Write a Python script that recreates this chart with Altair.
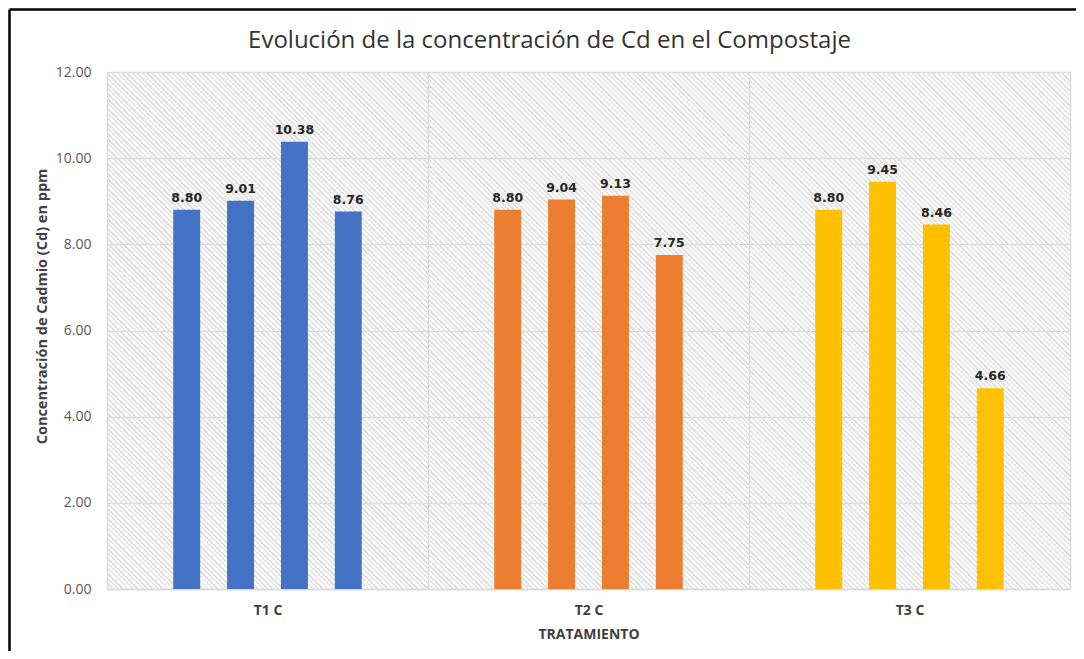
import altair as alt
import pandas as pd

groups = ["T1 C", "T2 C", "T3 C"]
samples = ["1", "2", "3", "4"]
t1_values = [8.80, 9.01, 10.38, 8.76]
t2_values = [8.80, 9.04, 9.13, 7.75]
t3_values = [8.80, 9.45, 8.46, 4.66]
colors = ["#4472C4", "#ED7D31", "#FFC000"]

rows = []
for g, vals in zip(groups, [t1_values, t2_values, t3_values]):
    for s, v in zip(samples, vals):
        rows.append({"grupo": g, "muestra": s, "valor": v})
df = pd.DataFrame(rows)

W, H = 963, 517
PL, PT, PR, PB = 99, 64, 6, 62

# diagonal hatch as a striped linear gradient (45 degree lines)
r = H / W
tmax = (1 + r) / (1 + r * r)
N = int(round((W + H) / 5.0))
stops = []
frac = 0.45
GRAY = "#e2e2e2"
CLEAR = "rgba(255,255,255,0)"
for k in range(N):
    a = k / N
    b = (k + frac) / N
    c = (k + 1) / N
    stops.append({"offset": round(a, 6), "color": GRAY})
    stops.append({"offset": round(b, 6), "color": GRAY})
    stops.append({"offset": round(b, 6), "color": CLEAR})
    stops.append({"offset": round(c, 6), "color": CLEAR})
hatch = {
    "gradient": "linear",
    "x1": 0, "y1": 1,
    "x2": round(tmax, 6), "y2": round(1 - r * tmax, 6),
    "stops": stops,
}

offset_domain = ["_a"] + samples + ["_b"]

base = alt.Chart(df).encode(
    x=alt.X(
        "grupo:N",
        sort=groups,
        scale=alt.Scale(paddingInner=0, paddingOuter=0),
        axis=alt.Axis(
            title="TRATAMIENTO",
            labelAngle=0,
            tickBand="extent",
            ticks=False,
            tickSize=0,
            labelPadding=14,
            labelFont="Open Sans",
            labelFontWeight="bold",
            labelFontSize=14,
            labelColor="#404040",
            titleFont="Open Sans",
            titleFontWeight="bold",
            titleFontSize=14,
            titleColor="#404040",
            titlePadding=10,
            domainColor="#d9d9d9",
            domainWidth=1.5,
            grid=True,
            gridColor="#d9d9d9",
            gridWidth=1.5,
        ),
    ),
    xOffset=alt.XOffset(
        "muestra:N",
        scale=alt.Scale(domain=offset_domain, paddingInner=0.5, paddingOuter=0.23),
    ),
    y=alt.Y(
        "valor:Q",
        scale=alt.Scale(domain=[0, 12], nice=False),
        axis=alt.Axis(
            title="Concentración de Cadmio (Cd) en ppm",
            values=[0, 2, 4, 6, 8, 10, 12],
            format=".2f",
            ticks=False,
            tickSize=0,
            domain=False,
            labelPadding=16,
            labelFont="Open Sans",
            labelFontSize=14,
            labelColor="#595959",
            titleFont="Open Sans",
            titleFontWeight="bold",
            titleFontSize=14.5,
            titleColor="#404040",
            titleX=-65,
            titleY=234,
            titleBaseline="middle",
            gridColor="#d9d9d9",
            gridWidth=1.5,
        ),
    ),
)

one_row = alt.Data(values=[{"k": 1}])

background = alt.Chart(one_row).mark_rect(fill=hatch, strokeWidth=0).encode(
    x=alt.value(0), x2=alt.value(W), y=alt.value(0), y2=alt.value(H)
)

bars = base.mark_bar().encode(
    color=alt.Color("grupo:N", sort=groups,
                    scale=alt.Scale(domain=groups, range=colors), legend=None)
)

labels = base.mark_text(
    baseline="bottom", dy=-5, font="DejaVu Sans", fontWeight="bold",
    fontSize=12.5, color="#262626"
).encode(text=alt.Text("valor:Q", format=".2f"))

left_border = alt.Chart(one_row).mark_rule(color="#000000", strokeWidth=2.5).encode(
    x=alt.value(-PL + 1.5), y=alt.value(-PT + 1.5), y2=alt.value(H + PB)
)
top_border = alt.Chart(one_row).mark_rule(color="#000000", strokeWidth=2.5).encode(
    x=alt.value(-PL + 1.5), x2=alt.value(W + PR), y=alt.value(-PT + 1.5)
)

chart = alt.layer(background, bars, labels, left_border, top_border).properties(
    width=W,
    height=H,
    autosize="none",
    padding={"left": PL, "top": PT, "right": PR, "bottom": PB},
    title=alt.Title(
        "Evolución de la concentración de Cd en el Compostaje",
        font="Open Sans",
        fontSize=24,
        fontWeight="normal",
        color="#333333",
        anchor="middle",
        frame="group",
        dx=-39,
        dy=96,
        offset=32,
        baseline="alphabetic",
    ),
).configure_view(
    stroke="#d9d9d9", strokeWidth=1.5, fill="#ffffff"
).configure(background="#ffffff")

chart.save("out.html", embed_options={"renderer": "svg", "actions": False})
